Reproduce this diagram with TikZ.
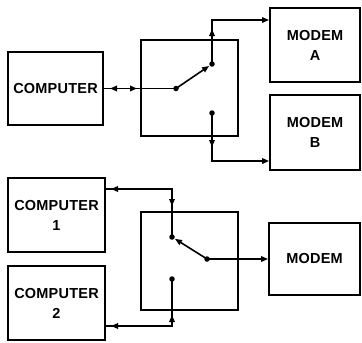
\documentclass[tikz,border=0pt]{standalone}
\usepackage{fontspec}
\setmainfont{Liberation Sans}
\newfontfamily\boxfont{Liberation Sans}[LetterSpace=1.5]
\usetikzlibrary{arrows.meta}
\begin{document}
\begin{tikzpicture}[x=1pt,y=-1pt,
  box/.style={draw, line width=1.8pt, inner sep=0pt, align=center,
    font=\boxfont\bfseries\fontsize{14.5}{20}\selectfont},
  swbox/.style={draw, line width=1.8pt, inner sep=0pt},
  wire/.style={line width=1.6pt},
  tip/.style={wire,-{Triangle[length=7pt,width=5.5pt]}},
  dot/.style={circle, fill, inner sep=0pt, minimum size=5.5pt},
]
\useasboundingbox (0,0) rectangle (362,343);

% ---- top system ----
\node[box, minimum width=95pt, minimum height=73pt] (comp) at (55.5,88.5) {COMPUTER};
\node[swbox, minimum width=97pt, minimum height=96pt] (sw1) at (189.5,88) {};
\node[box, minimum width=90pt, minimum height=74pt] (ma) at (315,45) {MODEM\\A};
\node[box, minimum width=90pt, minimum height=75pt] (mb) at (315,132.5) {MODEM\\B};

\coordinate (p1) at (176,88.5);
\coordinate (a1) at (212,64);
\coordinate (b1) at (212,113);
\coordinate (t1) at (212,20);
\coordinate (t2) at (212,161);
\coordinate (h1s) at (120,88.5);
\coordinate (h1) at (110,88.5);
\coordinate (h2s) at (127,88.5);
\coordinate (h2) at (137,88.5);
\coordinate (v1) at (212,29);
\coordinate (v2) at (212,147);

\draw[wire] (comp.east) -- (p1);
\draw[tip] (h1s) -- (h1);
\draw[tip] (h2s) -- (h2);
\draw[tip, shorten >=3.5pt] (p1) -- (a1);
\draw[tip] (a1) -- (t1) -- (ma.west |- t1);
\draw[tip] (a1) -- (v1);
\draw[tip] (b1) -- (t2) -- (mb.west |- t2);
\draw[tip] (b1) -- (v2);

% ---- bottom system ----
\node[box, minimum width=97pt, minimum height=74pt] (c1) at (56.5,215) {COMPUTER\\1};
\node[box, minimum width=97pt, minimum height=74pt] (c2) at (56.5,303) {COMPUTER\\2};
\node[swbox, minimum width=97pt, minimum height=98pt] (sw2) at (189.5,261) {};
\node[box, minimum width=91pt, minimum height=72pt] (m) at (314.5,259) {MODEM};

\coordinate (a2) at (172,237);
\coordinate (b2) at (172,279);
\coordinate (p2) at (207,259);
\coordinate (u1) at (172,189);
\coordinate (u2) at (172,326);
\coordinate (k1s) at (121,189);
\coordinate (k1) at (111,189);
\coordinate (k2s) at (121,326);
\coordinate (k2) at (111,326);
\coordinate (w1) at (172,206);
\coordinate (w2) at (172,315);

\draw[wire] (a2) -- (u1) -- (c1.east |- u1);
\draw[tip] (k1s) -- (k1);
\draw[tip] (u1) -- (w1);
\draw[wire] (b2) -- (u2) -- (c2.east |- u2);
\draw[tip] (k2s) -- (k2);
\draw[tip] (u2) -- (w2);
\draw[tip, shorten >=3.5pt] (p2) -- (a2);
\draw[tip] (p2) -- (m.west |- p2);

% dots
\foreach \d in {p1,a1,b1,a2,b2,p2}
  \node[dot] at (\d) {};
\end{tikzpicture}
\end{document}
